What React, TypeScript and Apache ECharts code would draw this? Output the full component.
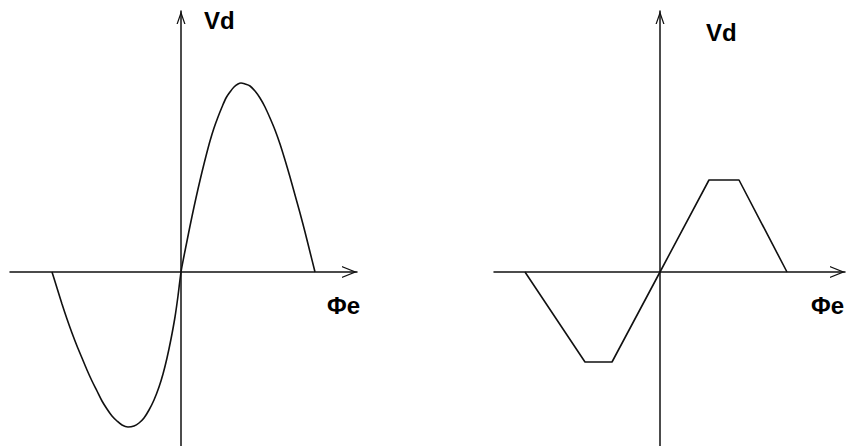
import React, { useEffect, useRef } from "react";
import * as echarts from "echarts";

// Left plot: sinusoidal Vd(Φe) characteristic (Φe, Vd) in arbitrary units
const sinePhi = [
  -1.29, -1.24, -1.19, -1.14, -1.09, -1.04, -0.99, -0.94, -0.89, -0.84, -0.79, -0.74, -0.69, -0.64,
  -0.59, -0.53, -0.47, -0.42, -0.37, -0.32, -0.27, -0.22, -0.18, -0.14, -0.1, -0.06, -0.03, 0,
  0.03, 0.06, 0.09, 0.13, 0.17, 0.21, 0.25, 0.29, 0.33, 0.37, 0.41, 0.45, 0.49, 0.53, 0.57,
  0.6, 0.64, 0.69, 0.74, 0.79, 0.84, 0.89, 0.94, 0.99, 1.04, 1.09, 1.14, 1.19, 1.24, 1.29, 1.34,
];
const sineVd = [
  0, -0.16, -0.32, -0.47, -0.61, -0.74, -0.86, -0.98, -1.09, -1.19, -1.29, -1.37, -1.44, -1.49,
  -1.53, -1.55, -1.54, -1.51, -1.46, -1.38, -1.28, -1.15, -1.02, -0.86, -0.67, -0.45, -0.24, 0,
  0.16, 0.31, 0.46, 0.65, 0.83, 1.0, 1.16, 1.31, 1.44, 1.55, 1.65, 1.74, 1.8, 1.85, 1.88,
  1.89, 1.88, 1.86, 1.81, 1.74, 1.65, 1.54, 1.42, 1.28, 1.12, 0.95, 0.77, 0.59, 0.4, 0.2, 0,
];

// Right plot: trapezoidal Vd(Φe) characteristic
const trapPhi = [-1.35, -0.75, -0.48, 0, 0.49, 0.79, 1.27];
const trapVd = [0, -0.9, -0.9, 0, 0.92, 0.92, 0];

// Axis ranges (arbitrary units)
const leftPhiRange = [-1.71, 1.76];
const rightPhiRange = [-1.66, 1.85];
const vdRange = [-1.74, 2.61];

const axisName = { y: "Vd", x: "Φe" };

function chevron(w: number, L: number, t: number) {
  const hyp = Math.sqrt((w / 2) * (w / 2) + L * L);
  const d = (t * hyp) / L;
  const iy = (t * hyp) / (w / 2);
  return `path://M${w / 2},0 L${w},${L} L${w - d},${L} L${w / 2},${iy} L${d},${L} L0,${L} Z`;
}

const INK = "#111";

export default function App() {
  const ref = useRef<HTMLDivElement>(null);
  useEffect(() => {
    if (!ref.current) return;
    const chart = echarts.init(ref.current, null, { renderer: "svg" });
    const xArrow = chevron(12, 15, 1.2);
    const yArrow = chevron(9, 13, 1.2);
    const xAxisBase = (gridIndex: number, range: number[]) => ({
      type: "value",
      gridIndex,
      min: range[0],
      max: range[1],
      axisLine: {
        show: true,
        onZero: true,
        symbol: ["none", xArrow],
        symbolSize: [12, 15],
        symbolOffset: [0, -7.5],
        lineStyle: { color: INK, width: 1.5 },
      },
      axisTick: { show: false },
      axisLabel: { show: false },
      splitLine: { show: false },
    });
    const yAxisBase = (gridIndex: number) => ({
      type: "value",
      gridIndex,
      min: vdRange[0],
      max: vdRange[1],
      axisLine: {
        show: true,
        onZero: true,
        symbol: ["none", yArrow],
        symbolSize: [9, 13],
        symbolOffset: [0, -6.5],
        lineStyle: { color: INK, width: 1.5 },
      },
      axisTick: { show: false },
      axisLabel: { show: false },
      splitLine: { show: false },
    });
    const labelStyle = {
      fontFamily: "Liberation Sans, Arial, sans-serif",
      fontWeight: "bold",
      fontSize: 24,
      fill: "#000",
      textVerticalAlign: "middle",
      textAlign: "left",
    };
    chart.setOption({
      animation: false,
      backgroundColor: "#fff",
      grid: [
        { left: 10, top: 11, width: 347, height: 435 },
        { left: 494, top: 11, width: 351, height: 435 },
      ],
      xAxis: [xAxisBase(0, leftPhiRange), xAxisBase(1, rightPhiRange)],
      yAxis: [yAxisBase(0), yAxisBase(1)],
      series: [
        {
          type: "line",
          xAxisIndex: 0,
          yAxisIndex: 0,
          data: sinePhi.map((p, i) => [p, sineVd[i]]),
          showSymbol: false,
          smooth: 0.3,
          lineStyle: { color: INK, width: 1.6 },
          z: 3,
        },
        {
          type: "line",
          xAxisIndex: 1,
          yAxisIndex: 1,
          data: trapPhi.map((p, i) => [p, trapVd[i]]),
          showSymbol: false,
          lineStyle: { color: INK, width: 1.6 },
          z: 3,
        },
      ],
      graphic: [
        { type: "text", x: 204, y: 20, style: { ...labelStyle, text: axisName.y } },
        { type: "text", x: 327, y: 305, style: { ...labelStyle, text: axisName.x } },
        { type: "text", x: 706, y: 32, style: { ...labelStyle, text: axisName.y } },
        { type: "text", x: 811, y: 305, style: { ...labelStyle, text: axisName.x } },
      ],
    });
    return () => chart.dispose();
  }, []);
  return (
    <div
      ref={ref}
      style={{ position: "fixed", left: 0, top: 0, width: 850, height: 446 }}
    />
  );
}
